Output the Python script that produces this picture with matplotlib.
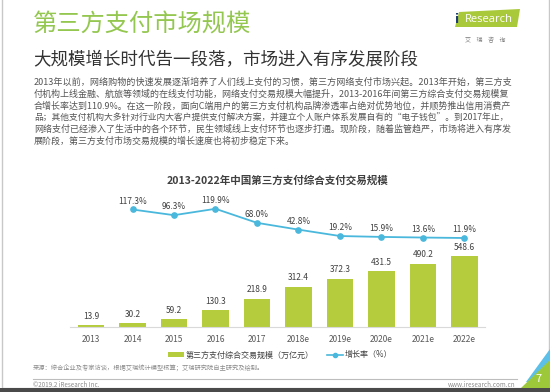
import numpy as np
import matplotlib
matplotlib.use("Agg")
import matplotlib.pyplot as plt
from matplotlib.patches import Polygon, Rectangle
from matplotlib.lines import Line2D

plt.rcParams['font.family'] = ['Noto Sans CJK SC', 'DejaVu Sans']

# ---------------- data ----------------
years = ["2013", "2014", "2015", "2016", "2017", "2018e", "2019e", "2020e", "2021e", "2022e"]
volume = [13.9, 30.2, 59.2, 130.3, 218.9, 312.4, 372.3, 431.5, 490.2, 548.6]
growth_years = ["2014", "2015", "2016", "2017", "2018e", "2019e", "2020e", "2021e", "2022e"]
growth = [117.3, 96.3, 119.9, 68.0, 42.8, 19.2, 15.9, 13.6, 11.9]

title = "第三方支付市场规模"
subtitle = "大规模增长时代告一段落，市场进入有序发展阶段"
paragraph = [
    "2013年以前，网络购物的快速发展逐渐培养了人们线上支付的习惯，第三方网络支付市场兴起。2013年开始，第三方支",
    "付机构上线金融、航旅等领域的在线支付功能，网络支付交易规模大幅提升，2013-2016年间第三方综合支付交易规模复",
    "合增长率达到110.9%。在这一阶段，面向C端用户的第三方支付机构品牌渗透率占绝对优势地位，并顺势推出信用消费产",
    "品；其他支付机构大多针对行业内大客户提供支付解决方案，并建立个人账户体系发展自有的“电子钱包”。到2017年止，",
    "网络支付已经渗入了生活中的各个环节，民生领域线上支付环节也逐步打通。现阶段，随着监管趋严，市场将进入有序发",
    "展阶段，第三方支付市场交易规模的增长速度也将初步稳定下来。",
]
chart_title = "2013-2022年中国第三方支付综合支付交易规模"
legend_labels = ["第三方支付综合交易规模（万亿元）", "增长率（%）"]
source_text = "来源：综合企业及专家访谈，根据艾瑞统计模型核算；艾瑞研究院自主研究及绘制。"
copyright_text = "©2019.2 iResearch Inc."
url_text = "www.iresearch.com.cn"
page_no = "7"

BAR = "#b5cd3c"
LINE = "#4ab8dc"
GREEN_T = "#94c750"

W, H = 550, 392
fig = plt.figure(figsize=(W / 100, H / 100), dpi=100)
fig.patch.set_facecolor("white")

# background axes in pixel coordinates
bg = fig.add_axes([0, 0, 1, 1])
bg.set_xlim(0, W)
bg.set_ylim(H, 0)
bg.axis("off")

# slide frame
bg.add_patch(Rectangle((1.5, -2), W - 3, 390, fill=False, edgecolor="#c8c8c8", lw=1.0))
bg.add_patch(Rectangle((0, 388), W, 4, facecolor="#4a4a4a", edgecolor="none"))

# titles
bg.text(33, 25, title, fontsize=17.5, color=GREEN_T, va="center", ha="left")
bg.text(33, 60, subtitle, fontsize=12.6, color="#333333", va="center", ha="left")

# logo
bg.add_patch(Polygon([(455, 27), (459, 12), (520, 9), (517, 27)], closed=True,
                     facecolor="#a9c93a", edgecolor="none"))
bg.text(457, 19, "i", fontsize=9, color="#1f3f73", fontweight="bold", va="center", ha="center",
        family=["DejaVu Sans"])
bg.text(489, 19, "Research", fontsize=8, color="white", va="center", ha="center",
        family=["Open Sans", "DejaVu Sans"])
bg.text(485, 40, "艾    瑞    咨    询", fontsize=4.3, color="#808080", va="center", ha="center")

# paragraph (justified lines)
para_y = [82, 94, 105.8, 117.8, 129.4, 141]
x_left, x_right = 34, 513
fig.canvas.draw()
renderer = fig.canvas.get_renderer()
base_fs = 6.8
texts = []
scales = []
for i, (line, y) in enumerate(zip(paragraph, para_y)):
    t = bg.text(x_left, y, line, fontsize=base_fs, color="#555555", va="center", ha="left")
    texts.append(t)
for i, t in enumerate(texts):
    if i < len(texts) - 1:
        w = t.get_window_extent(renderer).width
        s = (x_right - x_left) / w
        scales.append(s)
        t.set_fontsize(base_fs * s)
texts[-1].set_fontsize(base_fs * float(np.mean(scales)))

# chart title
bg.text(277, 180, chart_title, fontsize=7.6, fontweight="bold", color="#404040",
        va="center", ha="center")

# ---------------- chart ----------------
ax_left, ax_right = 70.25, 485.25
ax_bottom, ax_top = 327, 195
ax = fig.add_axes([ax_left / W, 1 - ax_bottom / H, (ax_right - ax_left) / W, (ax_bottom - ax_top) / H])
ax.patch.set_alpha(0)
x = np.arange(len(years))
ax.bar(x, volume, width=0.63, color=BAR, zorder=2)
ax.set_xlim(-0.5, len(years) - 0.5)
ax.set_ylim(0, (ax_bottom - ax_top) / 0.129)
ax.set_xticks(x)
ax.set_xticklabels(years, fontsize=6, color="#595959")
ax.tick_params(axis="x", length=0, pad=6)
ax.set_yticks([])
for s in ["left", "right", "top"]:
    ax.spines[s].set_visible(False)
ax.spines["bottom"].set_color("#d9d9d9")
ax.spines["bottom"].set_linewidth(0.8)
for xi, v in zip(x, volume):
    ax.annotate(f"{v:.1f}", (xi, v), xytext=(0, 6.5), textcoords="offset points",
                ha="center", va="center", fontsize=6, color="#404040")

ax2 = ax.twinx()
gx = np.array([years.index(g) for g in growth_years])
ax2.plot(gx, growth, color=LINE, lw=1.3, marker="o", markersize=3.8, zorder=3)
lo = 11.9 - (ax_bottom - 238) / 0.2704
hi = 11.9 + (238 - ax_top) / 0.2704
ax2.set_ylim(lo, hi)
ax2.set_yticks([])
for s in ax2.spines.values():
    s.set_visible(False)
for xi, v in zip(gx, growth):
    ax2.annotate(f"{v:.1f}%", (xi, v), xytext=(0, 6.0), textcoords="offset points",
                 ha="center", va="center", fontsize=6, color="#404040")

# legend
handles = [Rectangle((0, 0), 1, 1, facecolor=BAR, edgecolor="none"),
           Line2D([0], [0], color=LINE, lw=1.2, marker="o", markersize=3)]
leg = fig.legend(handles, legend_labels, loc="center", bbox_to_anchor=(280 / W, 1 - 355 / H),
                 ncol=2, frameon=False, fontsize=5.8, handlelength=2.0, handleheight=0.45,
                 handletextpad=0.2, columnspacing=1.6, labelcolor="#404040")

# footer
bg.text(33, 369, source_text, fontsize=4.5, color="#8a8a8a", va="center", ha="left")
bg.plot([33, 517], [379, 379], color="#bdbdbd", lw=0.8)
bg.text(33, 385, copyright_text, fontsize=4.5, color="#8a8a8a", va="center", ha="left")
bg.text(515, 385, url_text, fontsize=4.5, color="#8a8a8a", va="center", ha="right")

# corner decoration
bg.add_patch(Polygon([(550, 349), (550, 382), (526, 382)], closed=True, facecolor="#5bbfe8", edgecolor="none"))
bg.add_patch(Polygon([(521, 388), (550, 360), (550, 388)], closed=True, facecolor="#9cc83a", edgecolor="none"))
bg.text(539, 379, page_no, fontsize=8, color="white", va="center", ha="center")

fig.savefig("out.png", dpi=100, facecolor="white")
